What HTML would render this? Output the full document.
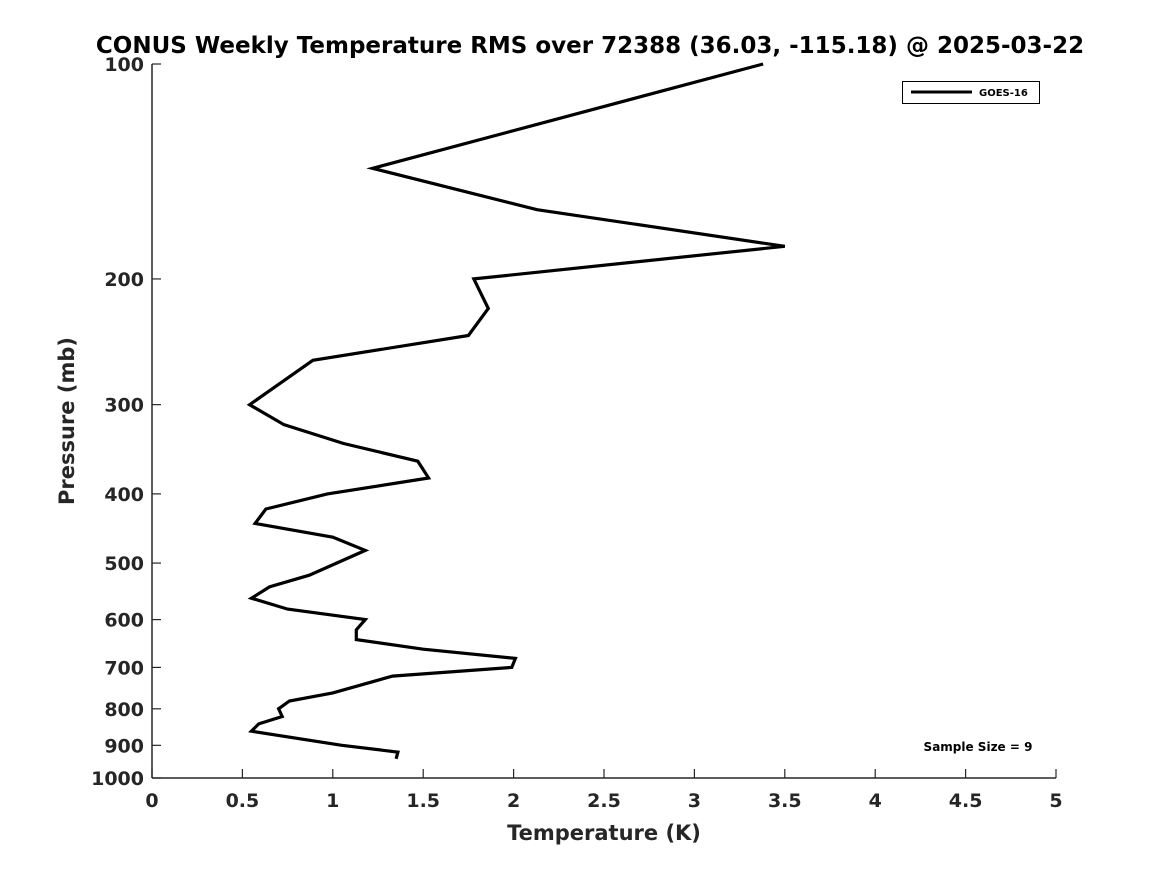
<!DOCTYPE html>
<html><head><meta charset="utf-8"><style>
html,body{margin:0;padding:0;background:#fff;}
svg{display:block;font-family:"DejaVu Sans","Liberation Sans",sans-serif;font-weight:bold;}
</style></head><body>
<svg id="chart" width="1167" height="875" viewBox="0 0 1167 875">
<text x="590" y="53" text-anchor="middle" font-size="23" fill="#000">CONUS Weekly Temperature RMS over 72388 (36.03, -115.18) @ 2025-03-22</text>
<g id="axes"></g>
<text transform="translate(74,421) rotate(-90)" text-anchor="middle" font-size="21" fill="#262626">Pressure (mb)</text>
<text x="604" y="840" text-anchor="middle" font-size="21" fill="#262626">Temperature (K)</text>
<path id="line" fill="none" stroke="#000" stroke-width="3.2" stroke-linejoin="miter"/>
<g>
<rect x="902.5" y="81.5" width="137" height="22" fill="#fff" stroke="#000" stroke-width="1"/>
<line x1="911" y1="92" x2="972" y2="92" stroke="#000" stroke-width="3"/>
<text x="979" y="96" font-size="10" fill="#000">GOES-16</text>
</g>
<text x="978" y="751" text-anchor="middle" font-size="12" fill="#000">Sample Size = 9</text>
</svg>
<script>
const pressures = [100,140,160,180,200,220,240,260,300,320,340,360,380,400,420,440,460,480,520,540,560,580,600,620,640,660,680,700,720,760,780,800,820,840,860,900,920,940];
const rmsValues = [3.38,1.22,2.13,3.50,1.78,1.86,1.75,0.89,0.54,0.73,1.06,1.47,1.53,0.97,0.63,0.57,1.00,1.18,0.87,0.65,0.55,0.75,1.18,1.13,1.13,1.50,2.01,1.99,1.33,1.00,0.76,0.70,0.72,0.59,0.55,1.05,1.36,1.35];
const xTicks = [0,0.5,1,1.5,2,2.5,3,3.5,4,4.5,5];
const yTicks = [100,200,300,400,500,600,700,800,900,1000];
const X0=152,X1=1056,Y0=64,Y1=778;
function xs(v){return X0+(v-0)/5*(X1-X0);}
function ys(p){return Y0+Math.log10(p/100)*(Y1-Y0);}
const NS="http://www.w3.org/2000/svg";
const axes=document.getElementById('axes');
function mk(tag,attrs){const e=document.createElementNS(NS,tag);for(const k in attrs)e.setAttribute(k,attrs[k]);return e;}
const ya=mk('line',{x1:X0,y1:Y0,x2:X0,y2:Y1,stroke:'#262626','stroke-width':1.5});


axes.appendChild(ya);
const xa=mk('line',{x1:X0,y1:Y1,x2:X1,y2:Y1,stroke:'#262626','stroke-width':1.5});


axes.appendChild(xa);
xTicks.forEach(t=>{
  const x=xs(t);
  const tk=mk('line',{x1:x,y1:Y1,x2:x,y2:Y1-9,stroke:'#262626','stroke-width':1.2});
  
  
  axes.appendChild(tk);
  const tx=mk('text',{x:x,y:Y1+29,'text-anchor':'middle','font-size':19,fill:'#262626'});
  tx.textContent=t;
  
  
  axes.appendChild(tx);
});
yTicks.forEach(t=>{
  const y=ys(t);
  const tk=mk('line',{x1:X0,y1:y,x2:X0+9,y2:y,stroke:'#262626','stroke-width':1.2});
  
  
  axes.appendChild(tk);
  const tx=mk('text',{x:X0-8,y:y+7,'text-anchor':'end','font-size':19,fill:'#262626'});
  tx.textContent=t;
  
  
  axes.appendChild(tx);
});
document.getElementById('line').setAttribute('d',pressures.map((p,i)=>(i?'L':'M')+xs(rmsValues[i]).toFixed(1)+','+ys(p).toFixed(1)).join(''));
</script>
</body></html>
